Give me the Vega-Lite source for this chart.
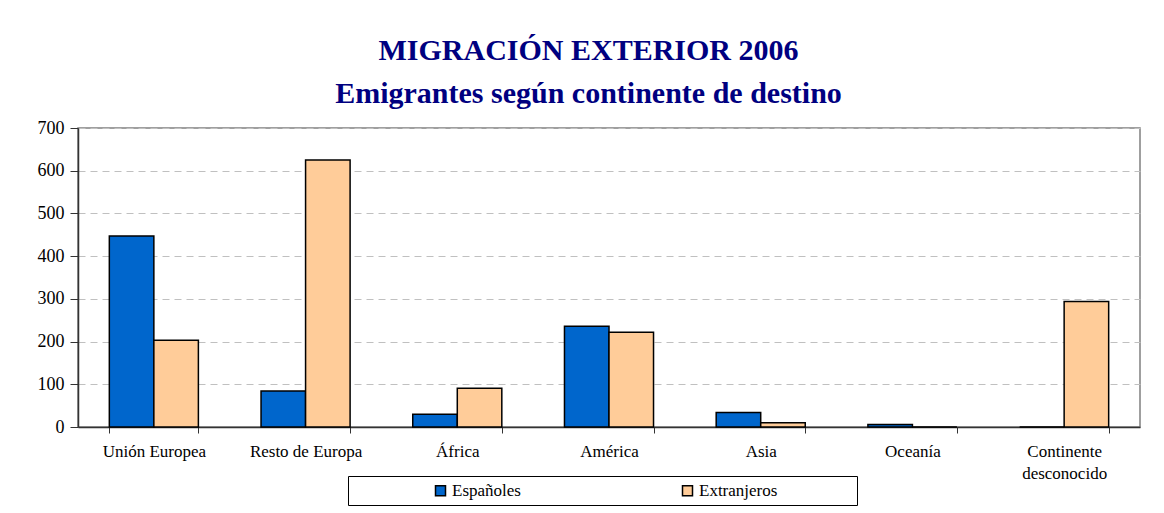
{
  "$schema": "https://vega.github.io/schema/vega-lite/v6.json",
  "autosize": {"type": "none"},
  "width": 1062,
  "height": 299,
  "padding": {"left": 78, "top": 128, "right": 24, "bottom": 86},
  "background": "white",
  "title": {
    "text": ["MIGRACIÓN EXTERIOR 2006", "Emigrantes según continente de destino"],
    "font": "Liberation Serif",
    "fontSize": 30,
    "fontWeight": "bold",
    "color": "#000080",
    "lineHeight": 43,
    "anchor": "middle",
    "frame": "bounds",
    "offset": 10
  },
  "data": {
    "values": [
      {"continente": "Unión Europea", "grupo": "Españoles", "valor": 447},
      {"continente": "Unión Europea", "grupo": "Extranjeros", "valor": 203},
      {"continente": "Resto de Europa", "grupo": "Españoles", "valor": 84},
      {"continente": "Resto de Europa", "grupo": "Extranjeros", "valor": 625},
      {"continente": "África", "grupo": "Españoles", "valor": 30},
      {"continente": "África", "grupo": "Extranjeros", "valor": 91},
      {"continente": "América", "grupo": "Españoles", "valor": 236},
      {"continente": "América", "grupo": "Extranjeros", "valor": 222},
      {"continente": "Asia", "grupo": "Españoles", "valor": 34},
      {"continente": "Asia", "grupo": "Extranjeros", "valor": 10},
      {"continente": "Oceanía", "grupo": "Españoles", "valor": 6},
      {"continente": "Oceanía", "grupo": "Extranjeros", "valor": 0},
      {"continente": "Continente desconocido", "grupo": "Españoles", "valor": 0},
      {"continente": "Continente desconocido", "grupo": "Extranjeros", "valor": 294}
    ]
  },
  "mark": {"type": "bar", "stroke": "black", "strokeWidth": 1.5},
  "encoding": {
    "x": {
      "field": "continente",
      "type": "nominal",
      "sort": null,
      "scale": {"paddingInner": 0.413, "paddingOuter": 0.2065},
      "axis": {
        "title": null,
        "labelAngle": 0,
        "labelFont": "Liberation Serif",
        "labelFontSize": 17,
        "labelColor": "black",
        "labelPadding": 10,
        "labelLineHeight": 22,
        "labelExpr": "datum.label == 'Continente desconocido' ? ['Continente', 'desconocido'] : datum.label",
        "tickBand": "extent",
        "tickSize": 6,
        "tickColor": "#333",
        "domainColor": "#333",
        "domainWidth": 1.5,
        "grid": false
      }
    },
    "xOffset": {"field": "grupo", "type": "nominal", "scale": {"paddingInner": 0, "paddingOuter": 0}},
    "y": {
      "field": "valor",
      "type": "quantitative",
      "scale": {"domain": [0, 700], "nice": false},
      "axis": {
        "title": null,
        "values": [0, 100, 200, 300, 400, 500, 600, 700],
        "labelFont": "Liberation Serif",
        "labelFontSize": 18,
        "labelColor": "black",
        "labelPadding": 6,
        "tickSize": 8,
        "tickColor": "#333",
        "domainColor": "#333",
        "domainWidth": 1.5,
        "grid": true,
        "gridColor": "#c0c0c0",
        "gridDash": [7, 5],
        "gridWidth": 1
      }
    },
    "fill": {
      "field": "grupo",
      "type": "nominal",
      "scale": {"domain": ["Españoles", "Extranjeros"], "range": ["#0066CC", "#FFCC99"]},
      "legend": {
        "title": "\u00a0",
        "titleOrient": "right",
        "titlePadding": 74,
        "orient": "none",
        "legendX": 270,
        "legendY": 348,
        "direction": "horizontal",
        "columns": 2,
        "columnPadding": 80,
        "symbolType": "square",
        "symbolSize": 100,
        "symbolStrokeColor": "black",
        "symbolStrokeWidth": 1.5,
        "symbolOffset": 78,
        "labelOffset": 3,
        "labelFont": "Liberation Serif",
        "labelFontSize": 17,
        "labelColor": "black",
        "strokeColor": "black",
        "padding": 6
      }
    }
  },
  "config": {
    "view": {"stroke": "#808080", "strokeWidth": 1.5}
  }
}
